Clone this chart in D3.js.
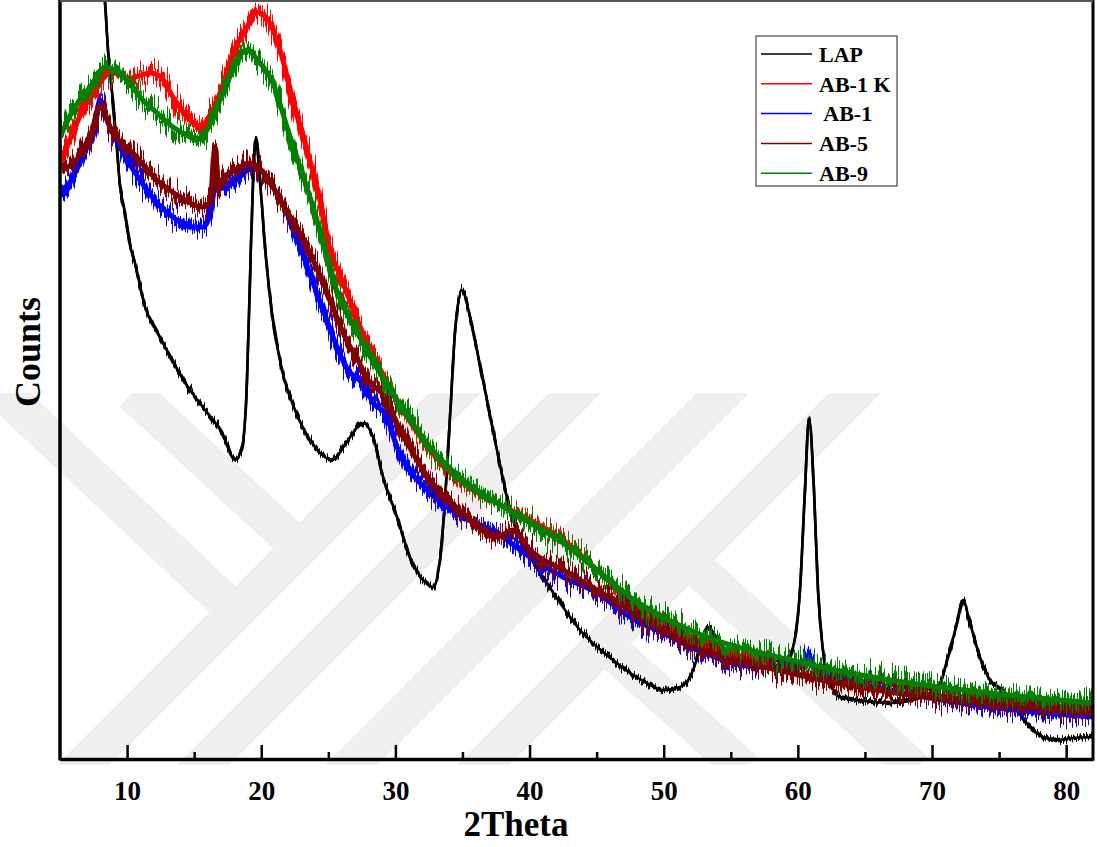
<!DOCTYPE html>
<html>
<head>
<meta charset="utf-8">
<script src="https://cdn.jsdelivr.net/npm/d3@7"></script>
<style>
    body { margin: 0; background: #fff; }
    text { font-family: "Liberation Serif", "Times New Roman", serif; font-weight: bold; }
</style>
</head>
<body>
<svg id="chart" width="1097" height="847"></svg>
<script>
// series names / colours (legend order = draw order)
const seriesNames = ['LAP', 'AB-1 K', ' AB-1', 'AB-5', 'AB-9'];
const seriesColors = ['#000000', '#ff0000', '#0000ff', '#800000', '#008000'];

// [2theta, counts]
const lap = [[5.0, 1259], [6.49, 1059], [7.61, 879], [8.2, 790], [8.35, 759], [8.58, 709], [8.88, 667], [9.25, 609],
    [9.47, 574], [9.84, 546], [10.22, 514], [10.59, 496], [11.34, 452], [12.3, 426], [13.35, 399], [14.54, 372],
    [15.81, 349], [17.08, 326], [18.04, 299], [18.57, 312], [18.94, 379], [19.16, 479], [19.39, 579], [19.61, 622],
    [19.91, 579], [20.28, 512], [20.8, 446], [21.55, 389], [22.52, 349], [24.01, 312], [25.27, 299], [26.47, 319],
    [27.58, 336], [28.33, 322], [29.08, 282], [30.12, 242], [31.09, 202], [32.06, 179], [32.8, 172], [33.32, 199],
    [33.7, 259], [34.07, 342], [34.44, 426], [34.96, 469], [35.56, 442], [36.08, 409], [36.83, 359], [37.57, 309],
    [38.32, 262], [39.06, 229], [40.03, 202], [41.3, 176], [42.49, 152], [43.76, 129], [45.03, 112], [46.22, 99],
    [47.49, 86], [48.75, 76], [49.95, 69], [51.21, 72], [51.96, 82], [52.7, 109], [53.3, 132], [54.19, 116],
    [55.68, 99], [57.55, 97], [59.19, 101], [59.64, 112], [60.16, 169], [60.53, 269], [60.83, 341], [61.2, 269],
    [61.5, 169], [61.87, 109], [62.39, 76], [63.14, 62], [64.41, 59], [66.87, 56], [69.33, 62], [70.59, 76],
    [71.34, 109], [71.86, 136], [72.31, 159], [72.83, 136], [73.57, 102], [74.32, 79], [75.29, 69], [76.33, 49],
    [77.3, 32], [78.27, 22], [79.31, 19], [80.51, 21], [82.0, 22]];

const ab1k = [[5.15, 599], [6.71, 649], [7.98, 676], [8.73, 687], [10.22, 681], [11.71, 686], [12.45, 683],
    [13.42, 662], [14.47, 642], [15.44, 632], [16.18, 644], [16.93, 666], [17.9, 706], [18.94, 732], [19.68, 747],
    [20.65, 736], [21.4, 709], [22.37, 659], [23.41, 609], [24.38, 559], [25.13, 509], [25.87, 484], [27.58, 426],
    [30.12, 359], [32.58, 309], [35.04, 276], [37.57, 256], [40.03, 239], [42.49, 219], [45.03, 189], [47.49, 159],
    [49.95, 139], [52.48, 119], [59.41, 87], [66.87, 67], [74.32, 56], [82.0, 49]];

const ab1 = [[5.15, 562], [5.97, 582], [7.01, 612], [7.61, 634], [7.98, 659], [8.5, 639], [9.47, 612], [10.96, 579],
    [12.23, 556], [13.42, 542], [14.69, 532], [15.66, 532], [16.18, 544], [16.48, 569], [17.45, 572], [18.42, 582],
    [19.39, 592], [20.13, 587], [20.88, 572], [21.92, 546], [22.89, 512], [24.53, 452], [26.47, 389], [27.51, 376],
    [28.48, 354], [29.22, 346], [30.12, 312], [32.58, 266], [35.04, 242], [37.57, 226], [40.03, 202], [42.49, 182],
    [45.03, 166], [47.49, 142], [49.95, 126], [52.48, 109], [56.95, 92], [60.16, 91], [60.76, 104], [61.35, 91],
    [66.87, 69], [74.32, 52], [82.0, 42]];

const ab5 = [[5.15, 589], [5.97, 596], [7.24, 622], [7.98, 652], [8.95, 626], [10.44, 606], [12.23, 579],
    [13.94, 562], [15.66, 552], [16.26, 559], [16.55, 612], [16.85, 569], [17.08, 579], [18.42, 592], [19.16, 596],
    [20.43, 582], [21.4, 559], [22.89, 526], [24.53, 479], [26.47, 416], [27.21, 399], [27.96, 379], [29.22, 362],
    [30.12, 336], [32.58, 279], [35.04, 246], [37.57, 222], [38.77, 229], [40.03, 209], [42.49, 189], [45.03, 169],
    [47.49, 149], [49.95, 129], [52.48, 112], [59.41, 86], [66.87, 67], [74.32, 56], [82.0, 46]];

const ab9 = [[5.15, 626], [5.97, 649], [7.24, 672], [8.35, 692], [9.99, 679], [10.96, 662], [12.23, 646],
    [13.42, 632], [14.69, 622], [15.21, 619], [15.96, 629], [16.93, 659], [17.9, 689], [18.86, 709], [19.91, 696],
    [20.88, 676], [21.92, 632], [22.89, 592], [23.86, 552], [24.6, 516], [25.13, 489], [27.58, 416], [30.12, 359],
    [32.58, 312], [35.04, 279], [37.57, 256], [40.03, 236], [42.49, 216], [45.03, 189], [47.49, 162], [49.95, 142],
    [52.48, 126], [59.41, 99], [66.87, 79], [74.32, 66], [82.0, 56]];

const allSeries = [lap, ab1k, ab1, ab5, ab9];

const xMajorTicks = [10, 20, 30, 40, 50, 60, 70, 80];
const xMinorTicks = [15, 25, 35, 45, 55, 65, 75];

// faint background watermark stripes (decoration only)
const watermark = [[475, 373, 71, 777], [595, 373, 191, 777], [743, 373, 339, 777], [875, 373, 471, 777],
    [0, 390, 238, 614], [132, 393, 300, 548], [688, 560, 915, 770], [605, 645, 745, 770]];

const width = 1097, height = 847;
const margin = { top: 0, right: 4, bottom: 88, left: 60 };

const svg = d3.select('#chart');

const x = d3.scaleLinear()
    .domain([5, 82])
    .range([margin.left, width - margin.right]);

const y = d3.scaleLinear()
    .domain([0, 759])
    .range([height - margin.bottom, margin.top]);

const defs = svg.append('defs');
defs.append('clipPath').attr('id', 'plotClip')
    .append('rect')
    .attr('x', margin.left).attr('y', margin.top)
    .attr('width', width - margin.right - margin.left)
    .attr('height', height - margin.bottom - margin.top);
defs.append('clipPath').attr('id', 'wmClip')
    .append('rect')
    .attr('x', 0).attr('y', 393)
    .attr('width', width).attr('height', 372);

// noisy look of the scans: vertical jitter copy merged over the clean line
function addJitter(id, scale, spread) {
    const f = defs.append('filter').attr('id', id)
        .attr('x', '-5%').attr('y', '-10%').attr('width', '110%').attr('height', '120%');
    f.append('feTurbulence')
        .attr('type', 'fractalNoise')
        .attr('baseFrequency', '0.8 0.004')
        .attr('numOctaves', 2)
        .attr('seed', 7)
        .attr('result', 'noise');
    f.append('feColorMatrix')
        .attr('in', 'noise')
        .attr('type', 'matrix')
        .attr('values', '0 0 0 0 0.5  0 1 0 0 0  0 0 0 0 0.5  0 0 0 0 1')
        .attr('result', 'noiseY');
    f.append('feDisplacementMap')
        .attr('in', 'SourceGraphic')
        .attr('in2', 'noiseY')
        .attr('scale', scale)
        .attr('xChannelSelector', 'R')
        .attr('yChannelSelector', 'G')
        .attr('result', 'moved');
    f.append('feMorphology')
        .attr('in', 'moved')
        .attr('operator', 'dilate')
        .attr('radius', '0 ' + spread)
        .attr('result', 'spikes');
    const m = f.append('feMerge');
    m.append('feMergeNode').attr('in', 'SourceGraphic');
    m.append('feMergeNode').attr('in', 'spikes');
}
addJitter('jitterBig', 42, 3);
addJitter('jitterSmall', 14, 1);

// watermark
svg.append('g')
    .attr('clip-path', 'url(#wmClip)')
    .selectAll('line')
    .data(watermark)
    .join('line')
    .attr('x1', d => d[0]).attr('y1', d => d[1])
    .attr('x2', d => d[2]).attr('y2', d => d[3])
    .attr('stroke', '#efefef')
    .attr('stroke-width', 37);

const line = d3.line()
    .curve(d3.curveMonotoneX)
    .x(d => x(d[0]))
    .y(d => y(d[1]));

const plot = svg.append('g').attr('clip-path', 'url(#plotClip)');
plot.selectAll('path.scan')
    .data(allSeries)
    .join('path')
    .classed('scan', true)
    .attr('d', line)
    .attr('fill', 'none')
    .attr('stroke', (d, i) => seriesColors[i])
    .attr('stroke-width', (d, i) => i == 0 ? 2.6 : 5)
    .attr('filter', (d, i) => i == 0 ? 'url(#jitterSmall)' : 'url(#jitterBig)');

// axes, ticks pointing inward
const axisMajor = svg.append('g')
    .attr('transform', 'translate(0 ' + (height - margin.bottom) + ')')
    .call(d3.axisBottom(x).tickValues(xMajorTicks).tickSizeInner(-14).tickSizeOuter(0).tickPadding(22));
axisMajor.select('.domain').attr('stroke-width', 3.5);
axisMajor.selectAll('.tick line').attr('stroke-width', 2.5);
axisMajor.selectAll('.tick text')
    .attr('font-family', '"Liberation Serif", serif')
    .attr('font-size', 27)
    .attr('font-weight', 'bold')
    .attr('fill', '#000');

const axisMinor = svg.append('g')
    .attr('transform', 'translate(0 ' + (height - margin.bottom) + ')')
    .call(d3.axisBottom(x).tickValues(xMinorTicks).tickSizeInner(-7).tickSizeOuter(0).tickFormat(''));
axisMinor.select('.domain').remove();
axisMinor.selectAll('.tick line').attr('stroke-width', 2.5);

// frame
svg.append('line')
    .attr('x1', margin.left).attr('x2', margin.left)
    .attr('y1', 0).attr('y2', height - margin.bottom + 1.5)
    .attr('stroke', '#000').attr('stroke-width', 3.5);
svg.append('line')
    .attr('x1', width - margin.right).attr('x2', width - margin.right)
    .attr('y1', 0).attr('y2', height - margin.bottom + 1.5)
    .attr('stroke', '#000').attr('stroke-width', 3);
svg.append('line')
    .attr('x1', margin.left).attr('x2', width - margin.right)
    .attr('y1', 1).attr('y2', 1)
    .attr('stroke', '#555').attr('stroke-width', 2);

// axis titles
svg.append('text')
    .attr('x', 516).attr('y', 836)
    .attr('text-anchor', 'middle')
    .attr('font-size', 35)
    .text('2Theta');
svg.append('text')
    .attr('transform', 'translate(40 352) rotate(-90)')
    .attr('text-anchor', 'middle')
    .attr('font-size', 36)
    .text('Counts');

// legend
const legend = svg.append('g').attr('transform', 'translate(756 36)');
legend.append('rect')
    .attr('width', 141).attr('height', 150)
    .attr('fill', '#fff')
    .attr('stroke', '#444').attr('stroke-width', 1.2);
const items = legend.selectAll('g.item')
    .data(seriesNames)
    .join('g')
    .classed('item', true)
    .attr('transform', (d, i) => 'translate(0 ' + (18 + i * 29.8) + ')');
items.append('line')
    .attr('x1', 5).attr('x2', 56)
    .attr('stroke', (d, i) => seriesColors[i])
    .attr('stroke-width', 1.5);
items.append('text')
    .attr('x', 63).attr('dy', '0.35em')
    .attr('font-size', 22)
    .style('white-space', 'pre')
    .text(d => d);
</script>
</body>
</html>
